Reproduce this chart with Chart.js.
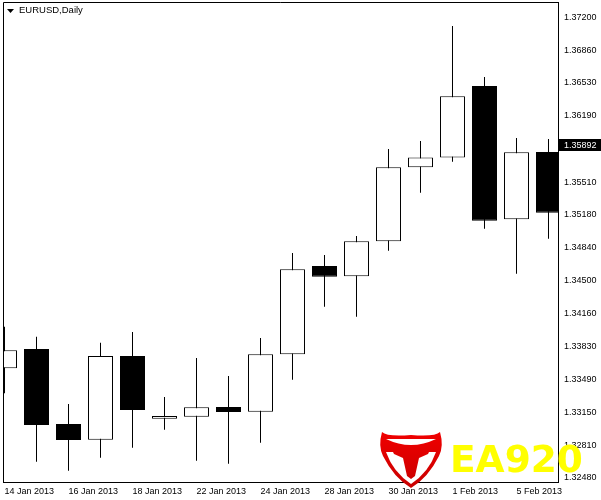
<!DOCTYPE html>
<html>
<head>
<meta charset="utf-8">
<title>EURUSD,Daily</title>
<script src="https://cdn.jsdelivr.net/npm/chart.js@4"></script>
<style>
  html, body { margin: 0; padding: 0; background: #fff; }
  #wrap { position: relative; width: 601px; height: 500px; }
</style>
</head>
<body>
<div id="wrap"><canvas id="myChart" width="601" height="500"></canvas></div>
<script>
//data block
const categories = ['14 Jan 2013', '15 Jan 2013', '16 Jan 2013', '17 Jan 2013', '18 Jan 2013', '21 Jan 2013',
  '22 Jan 2013', '23 Jan 2013', '24 Jan 2013', '25 Jan 2013', '28 Jan 2013', '29 Jan 2013',
  '30 Jan 2013', '31 Jan 2013', '1 Feb 2013', '4 Feb 2013', '5 Feb 2013', '6 Feb 2013'];
const opens = [1.33603, 1.33801, 1.33033, 1.32872, 1.33729, 1.33087, 1.33107, 1.33207, 1.33159,
  1.33746, 1.34650, 1.34545, 1.34903, 1.35661, 1.35763, 1.36493, 1.35129, 1.35818];
const highs = [1.34029, 1.33927, 1.33237, 1.33865, 1.33975, 1.33309, 1.33708, 1.33524, 1.33913,
  1.34784, 1.34763, 1.34958, 1.35848, 1.35930, 1.37108, 1.36586, 1.35961, 1.35951];
const lows = [1.33347, 1.32647, 1.32554, 1.32688, 1.32790, 1.32974, 1.32657, 1.32626, 1.32841,
  1.33486, 1.34234, 1.34131, 1.34807, 1.35401, 1.35718, 1.35032, 1.34572, 1.34930];
const closes = [1.33787, 1.33022, 1.32869, 1.33729, 1.33176, 1.33115, 1.33204, 1.33155, 1.33746,
  1.34617, 1.34541, 1.34903, 1.35661, 1.35763, 1.36388, 1.35114, 1.35815, 1.35196];
const priceTicks = [1.37200, 1.36860, 1.36530, 1.36190, 1.35850, 1.35510, 1.35180, 1.34840,
  1.34500, 1.34160, 1.33830, 1.33490, 1.33150, 1.32810, 1.32480];
const dateTicks = [0, 2, 4, 6, 8, 10, 12, 14, 16];
const lastPrice = 1.35892;

//frame, title and price tag
const chartFrame = {
  id: 'chartFrame',
  afterDraw(chart) {
    const {ctx, chartArea: {top, bottom, left, right}, scales: {y}} = chart;
    ctx.save();
    ctx.strokeStyle = '#000';
    ctx.lineWidth = 1;
    ctx.beginPath();
    ctx.moveTo(left + 0.5, bottom);
    ctx.lineTo(left + 0.5, top + 0.5);
    ctx.lineTo(right, top + 0.5);
    ctx.stroke();

    // symbol label
    ctx.fillStyle = '#000';
    ctx.beginPath();
    ctx.moveTo(7, 9);
    ctx.lineTo(14, 9);
    ctx.lineTo(10.5, 13);
    ctx.closePath();
    ctx.fill();
    ctx.font = '9.5px "Liberation Sans"';
    ctx.textAlign = 'left';
    ctx.textBaseline = 'middle';
    ctx.fillText('EURUSD,Daily', 19, 10.5);

    // last price tag
    const py = Math.round(y.getPixelForValue(lastPrice));
    ctx.fillStyle = '#000';
    ctx.fillRect(559, py - 6, 42, 12);
    ctx.fillStyle = '#fff';
    ctx.font = '9px "Liberation Sans"';
    ctx.fillText(lastPrice.toFixed(5), 564, py + 0.5);
    ctx.restore();
  }
};

//EA920 logo on top of the chart
const logo = {
  id: 'logo',
  afterDraw(chart) {
    const {ctx} = chart;
    ctx.save();
    ctx.fillStyle = '#ffff00';
    ctx.font = 'bold 37.5px "DejaVu Sans"';
    ctx.textAlign = 'left';
    ctx.textBaseline = 'alphabetic';
    ctx.fillText('EA920', 450, 472);

    const red = ctx.createLinearGradient(0, 432, 0, 488);
    red.addColorStop(0, '#f00000');
    red.addColorStop(1, '#c80000');

    // horns and outer shield
    ctx.fillStyle = red;
    ctx.beginPath();
    ctx.moveTo(382, 432);
    ctx.quadraticCurveTo(378, 446, 383, 456);
    ctx.quadraticCurveTo(394, 478, 411, 488);
    ctx.quadraticCurveTo(428, 478, 439, 456);
    ctx.quadraticCurveTo(444, 446, 440, 432);
    ctx.quadraticCurveTo(435, 437, 411, 435);
    ctx.quadraticCurveTo(387, 437, 382, 432);
    ctx.closePath();
    ctx.fill();

    // white crescent between horns and head
    ctx.fillStyle = '#fff';
    ctx.beginPath();
    ctx.moveTo(386, 439);
    ctx.quadraticCurveTo(411, 439, 436, 439);
    ctx.quadraticCurveTo(411, 451, 386, 439);
    ctx.closePath();
    ctx.fill();

    // white inside of the shield
    ctx.beginPath();
    ctx.moveTo(386, 452);
    ctx.lineTo(436, 452);
    ctx.quadraticCurveTo(429, 472, 411, 484);
    ctx.quadraticCurveTo(393, 472, 386, 452);
    ctx.closePath();
    ctx.fill();

    // bull head
    ctx.fillStyle = red;
    ctx.beginPath();
    ctx.moveTo(392, 450);
    ctx.lineTo(430, 450);
    ctx.lineTo(428, 454);
    ctx.lineTo(419, 458);
    ctx.lineTo(415, 476);
    ctx.lineTo(411, 479);
    ctx.lineTo(407, 476);
    ctx.lineTo(403, 458);
    ctx.lineTo(394, 454);
    ctx.closePath();
    ctx.fill();
    ctx.restore();
  }
};

//config block
const candleX = categories.map((c, i) => i);
const config = {
  type: 'bar',
  data: {
    datasets: [{
      label: 'Body',
      data: candleX.map(i => ({x: i, y: [opens[i], closes[i]]})),
      backgroundColor: candleX.map(i => closes[i] >= opens[i] ? '#fff' : '#000'),
      borderColor: '#000',
      borderWidth: 1,
      borderSkipped: false,
      inflateAmount: 0,
      barThickness: 25,
      grouped: false
    }, {
      label: 'Wick',
      data: candleX.map(i => ({x: i, y: [lows[i], highs[i]]})),
      backgroundColor: '#000',
      borderWidth: 0,
      inflateAmount: 0,
      barThickness: 1,
      grouped: false
    }]
  },
  options: {
    responsive: false,
    animation: false,
    layout: {padding: {left: 3, top: 2}},
    plugins: {legend: {display: false}, tooltip: {enabled: false}},
    scales: {
      x: {
        type: 'linear',
        offset: false,
        min: -0.047,
        max: 17.297,
        grid: {display: false, tickLength: 3, tickColor: '#000'},
        border: {color: '#000', width: 1},
        afterBuildTicks(scale) { scale.ticks = dateTicks.map(value => ({value})); },
        afterFit(scale) {
          scale.height = 18;
          scale.paddingLeft = 0;
          scale.paddingRight = 0;
        },
        ticks: {
          autoSkip: false,
          maxRotation: 0,
          align: 'start',
          padding: 1,
          color: '#000',
          font: {family: '"Liberation Sans"', size: 9},
          callback: value => categories[value]
        }
      },
      y: {
        position: 'right',
        min: 1.32439,
        max: 1.37354,
        grid: {display: false, tickLength: 3, tickColor: '#000'},
        border: {color: '#000', width: 1},
        afterBuildTicks(scale) { scale.ticks = priceTicks.map(value => ({value})); },
        afterFit(scale) {
          scale.width = 43;
          scale.paddingTop = 0;
          scale.paddingBottom = 0;
        },
        ticks: {
          autoSkip: false,
          padding: 3,
          color: '#000',
          font: {family: '"Liberation Sans"', size: 9},
          callback: value => value.toFixed(5)
        }
      }
    }
  },
  plugins: [chartFrame, logo]
};

//render block
const myChart = new Chart(document.getElementById('myChart'), config);
</script>
</body>
</html>
